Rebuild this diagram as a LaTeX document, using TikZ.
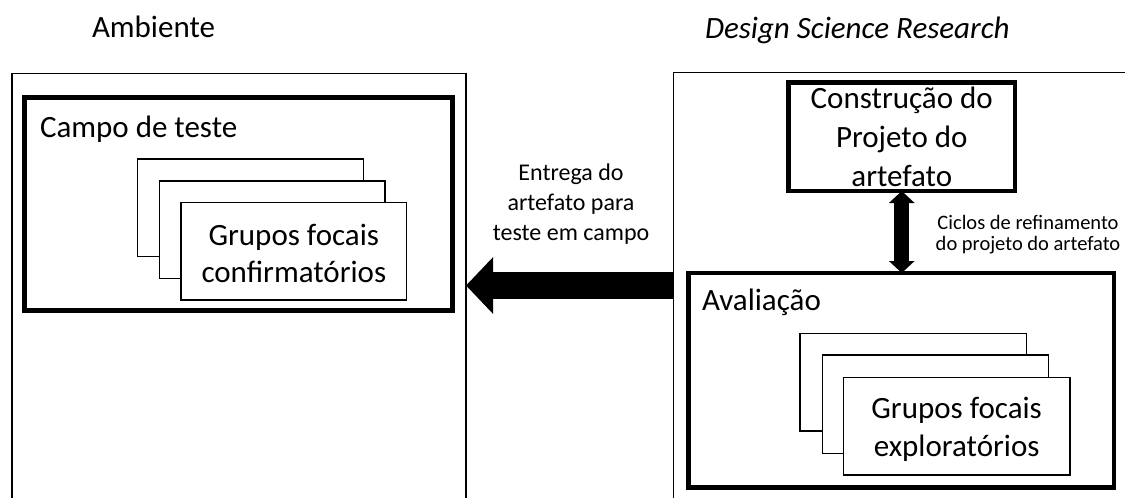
\documentclass[tikz,border=0pt]{standalone}
\usepackage{fontspec}
\setmainfont{Carlito}
\usetikzlibrary{arrows.meta,fit}
\newcommand\boxfont{\fontsize{31}{37}\selectfont}
\newcommand\midfont{\fontsize{24}{30}\selectfont}
\newcommand\smallnote{\fontsize{20.5}{21.5}\selectfont}
\begin{document}
\begin{tikzpicture}[x=1pt,y=-1pt,
  frame/.style={draw, line width=1.5pt, inner sep=0pt, outer sep=0pt},
  stage/.style={draw, line width=4.5pt, inner sep=0pt, outer sep=0pt},
  card/.style={draw, line width=1.5pt, fill=white, inner sep=0pt, outer sep=0pt},
  caption/.style={inner sep=0pt, outer sep=0pt},
  textline/.style={caption, anchor=base},
  flow/.style={line width=27pt, -{Triangle[length=27pt,width=55pt]}},
  loop/.style={line width=15pt,
               {Triangle[length=12pt,width=25pt]}-{Triangle[length=12pt,width=25pt]}}]
\useasboundingbox (0,0) rectangle (1125,498);
\clip (0,0) rectangle (1125,498);

% headings
\node[caption, anchor=base west, font=\boxfont] (amb-title) at (92,37) {Ambiente};
\node[caption, anchor=base west, font=\boxfont\itshape] (dsr-title) at (705,38) {Design Science Research};

% the two environments (open at the bottom / right)
\node[frame, fit={(12,73.3) (466,530)}] (amb) {};
\node[frame, fit={(673.3,72.3) (1140,530)}] (dsr) {};

% field test
\node[stage, fit={(24.5,97.5) (452.5,310.5)}] (campo) {};
\node[caption, anchor=base west, font=\boxfont] (campo-title) at (40,137) {Campo de teste};
\node[card, fit={(137.7,159) (363.3,256.7)}] (conf1) {};
\node[card, fit={(159.3,181) (385,278.3)}] (conf2) {};
\node[card, fit={(181,202.7) (406.7,300)}] (conf3) {};
\node[textline, font=\boxfont] (conf-a) at (conf3.center |- 0,245) {Grupos focais};
\node[textline, font=\boxfont] (conf-b) at (conf3.center |- 0,282) {confirmatórios};

% artefact construction
\node[stage, fit={(788.5,82.5) (1015,191)}] (build) {};
\node[textline, font=\boxfont] (build-a) at (build.center |- 0,108.3) {Construção do};
\node[textline, font=\boxfont] (build-b) at (build.center |- 0,147.7) {Projeto do};
\node[textline, font=\boxfont] (build-c) at (build.center |- 0,186.7) {artefato};

% evaluation
\node[stage, fit={(688.5,273) (1114,487.5)}] (eval) {};
\node[caption, anchor=base west, font=\boxfont] (eval-title) at (702,310) {Avaliação};
\node[card, fit={(800,333.3) (1026.7,431)}] (expl1) {};
\node[card, fit={(822.3,355) (1048.3,453.3)}] (expl2) {};
\node[card, fit={(843.3,377.3) (1070,475)}] (expl3) {};
\node[textline, font=\boxfont] (expl-a) at (expl3.center |- 0,418) {Grupos focais};
\node[textline, font=\boxfont] (expl-b) at (expl3.center |- 0,456) {exploratórios};

% refinement cycles
\draw[loop] (build.south) -- (build.south |- eval.north);
\node[textline, font=\smallnote] (cycles-a) at (1028,229) {Ciclos de refinamento};
\node[textline, font=\smallnote] (cycles-b) at (1028,250.5) {do projeto do artefato};

% hand-off to the field
\coordinate (lane) at (0,285.5);
\draw[flow] (dsr.west |- lane) -- (amb.east |- lane);
\node[textline, font=\midfont] (handoff-a) at (571,180) {Entrega do};
\node[textline, font=\midfont] (handoff-b) at (571,210) {artefato para};
\node[textline, font=\midfont] (handoff-c) at (571,240) {teste em campo};
\end{tikzpicture}
\end{document}
